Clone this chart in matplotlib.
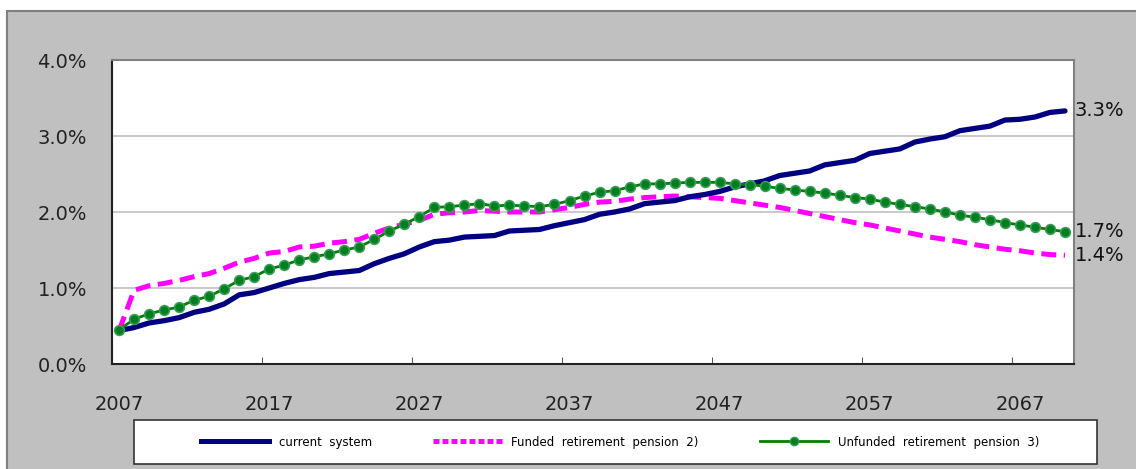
import matplotlib.pyplot as plt
from matplotlib.patches import Rectangle
from matplotlib.lines import Line2D

# Data (share of GDP, %)
years = list(range(2007, 2071))

current_system = [
    0.44, 0.48, 0.54, 0.57, 0.61, 0.68, 0.72, 0.79, 0.91, 0.94,
    1.00, 1.06, 1.11, 1.14, 1.19, 1.21, 1.23, 1.32, 1.39, 1.45,
    1.54, 1.61, 1.63, 1.67, 1.68, 1.69, 1.75, 1.76, 1.77, 1.82,
    1.86, 1.90, 1.97, 2.00, 2.04, 2.11, 2.13, 2.15, 2.20, 2.23,
    2.27, 2.33, 2.37, 2.41, 2.48, 2.51, 2.54, 2.62, 2.65, 2.68,
    2.77, 2.80, 2.83, 2.92, 2.96, 2.99, 3.07, 3.10, 3.13, 3.21,
    3.22, 3.25, 3.31, 3.33,
]

funded = [
    0.44, 0.97, 1.03, 1.06, 1.10, 1.15, 1.19, 1.26, 1.34, 1.39,
    1.46, 1.48, 1.54, 1.55, 1.59, 1.61, 1.64, 1.72, 1.79, 1.84,
    1.89, 1.97, 1.99, 2.00, 2.02, 2.01, 2.00, 2.00, 2.00, 2.03,
    2.06, 2.10, 2.13, 2.14, 2.17, 2.19, 2.20, 2.21, 2.20, 2.19,
    2.18, 2.15, 2.12, 2.09, 2.06, 2.02, 1.98, 1.94, 1.90, 1.86,
    1.83, 1.79, 1.75, 1.71, 1.67, 1.64, 1.61, 1.57, 1.54, 1.51,
    1.49, 1.46, 1.44, 1.43,
]

unfunded = [
    0.45, 0.59, 0.66, 0.71, 0.75, 0.84, 0.89, 0.99, 1.10, 1.15,
    1.25, 1.30, 1.37, 1.41, 1.45, 1.50, 1.54, 1.64, 1.75, 1.84,
    1.94, 2.06, 2.07, 2.09, 2.11, 2.08, 2.09, 2.08, 2.07, 2.10,
    2.15, 2.21, 2.26, 2.28, 2.33, 2.37, 2.37, 2.38, 2.39, 2.39,
    2.39, 2.37, 2.36, 2.34, 2.31, 2.29, 2.27, 2.25, 2.22, 2.19,
    2.17, 2.13, 2.10, 2.07, 2.04, 2.00, 1.96, 1.93, 1.90, 1.86,
    1.83, 1.80, 1.77, 1.74,
]

labels = ["current  system", "Funded  retirement  pension  2)",
          "Unfunded  retirement  pension  3)"]
end_labels = ["3.3%", "1.4%", "1.7%"]
y_ticks = [0, 1, 2, 3, 4]
x_ticks = [2007, 2017, 2027, 2037, 2047, 2057, 2067]

W, H = 1136, 469
fig = plt.figure(figsize=(W / 100, H / 100), dpi=100)
fig.patch.set_facecolor("white")

# grey outer frame
frame = Rectangle((7 / W, -0.05), 1.2, 1 - 11 / H + 0.05,
                  transform=fig.transFigure, facecolor="#c0c0c0",
                  edgecolor="#7f7f7f", linewidth=1.5, zorder=-5)
fig.add_artist(frame)

ax = fig.add_axes([112 / W, 1 - 364 / H, (1074 - 112) / W, (364 - 60) / H])
ax.set_zorder(2)
ax.set_facecolor("white")

ax.plot(years, current_system, color="#000080", lw=3.8, solid_capstyle="round",
        zorder=3)
ax.plot(years, funded, color="#ff00ff", lw=3.6, dashes=(3, 1.5), zorder=2)
ax.plot(years, unfunded, color="#008000", lw=2.0, marker="o", ms=7,
        mfc="#007f1f", mec="#3a9a5a", mew=1.2, zorder=4)

ax.set_xlim(2006.53, 2070.6)
ax.set_ylim(0, 4)
ax.set_yticks(y_ticks)
ax.set_yticklabels([f"{v:.1f}%" for v in y_ticks])
ax.set_xticks(x_ticks)
ax.set_xticklabels([str(x) for x in x_ticks])
ax.set_xticks([x - 0.5 for x in x_ticks[1:]], minor=True)
ax.tick_params(axis="x", which="major", length=0, pad=22, labelsize=14,
               labelcolor="#222222")
ax.tick_params(axis="x", which="minor", direction="in", length=5,
               color="#333333")
ax.tick_params(axis="y", length=0, pad=18, labelsize=14, labelcolor="#222222")

ax.yaxis.grid(True, color="#c0c0c0", lw=1.2)
ax.set_axisbelow(True)
for side in ("top", "right"):
    ax.spines[side].set_color("#808080")
    ax.spines[side].set_linewidth(1.5)
for side in ("left", "bottom"):
    ax.spines[side].set_color("#222222")
    ax.spines[side].set_linewidth(1.5)

# end-of-series labels
for series, txt in zip([current_system, funded, unfunded], end_labels):
    ax.annotate(txt, xy=(years[-1], series[-1]), xytext=(7, 0),
                textcoords="offset points", va="center", ha="left",
                fontsize=14, color="#111111", annotation_clip=False)

# legend box
box = Rectangle((134 / W, 1 - 464 / H), (1097 - 134) / W, 44 / H,
                transform=fig.transFigure, facecolor="white",
                edgecolor="#333333", linewidth=1.2, zorder=1)
fig.add_artist(box)

handles = [
    Line2D([], [], color="#000080", lw=3.6),
    Line2D([], [], color="#ff00ff", lw=3.6, dashes=(1.2, 0.6)),
    Line2D([0, 0.5, 1], [0, 0, 0], color="#008000", lw=2.0, marker="o", ms=6,
           mfc="#007f1f", mec="#3a9a5a", markevery=[1]),
]
leg = fig.legend(handles, labels, loc="center",
                 bbox_to_anchor=(620 / W, 1 - 442 / H),
                 ncol=3, frameon=False, handlelength=5.8, handletextpad=0.8,
                 borderaxespad=0, columnspacing=5.2,
                 prop={"size": 8.5})
leg.set_zorder(3)

fig.savefig("out.png", dpi=100, facecolor=fig.get_facecolor())
